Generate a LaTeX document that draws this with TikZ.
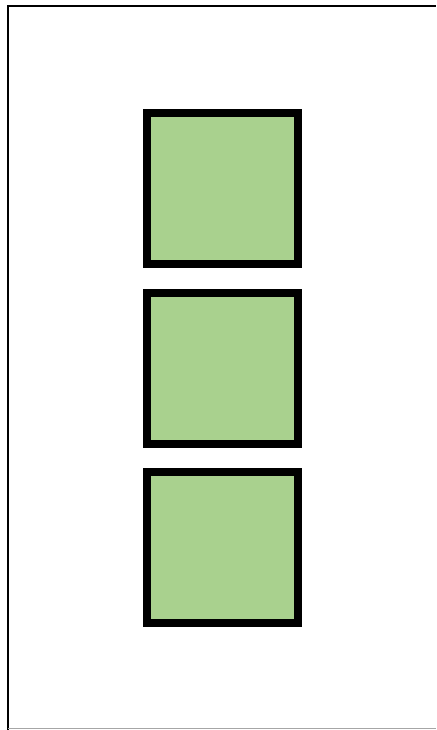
\documentclass[tikz,border=0pt]{standalone}
\definecolor{boxgreen}{HTML}{A9D18E}
\begin{document}
\begin{tikzpicture}[x=1pt,y=-1pt,
  greenbox/.style={draw=black,fill=boxgreen,line width=8pt,minimum size=151pt,inner sep=0pt,outer sep=0pt}]
\useasboundingbox (0,0) rectangle (436,730);
\fill[white] (0,0) rectangle (436,730);
\draw[line width=2pt,black] (8,730) -- (8,6) -- (436,6);
\draw[line width=1pt,gray!70] (8,728.5) -- (436,728.5);
\node[greenbox] (sq1) at (222.5,188.5) {};
\node[greenbox] (sq2) at (222.5,368) {};
\node[greenbox] (sq3) at (222.5,547.5) {};
\end{tikzpicture}
\end{document}
